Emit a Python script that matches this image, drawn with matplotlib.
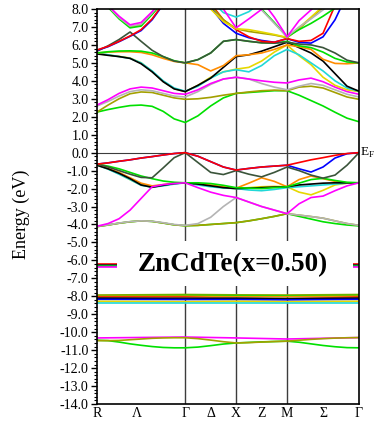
import matplotlib
matplotlib.use("Agg")
import matplotlib.pyplot as plt
import numpy as np
from matplotlib.patches import Rectangle

plt.rcParams['font.family'] = ['Liberation Serif', 'DejaVu Serif']
plt.rcParams['mathtext.fontset'] = 'custom'
plt.rcParams['mathtext.rm'] = 'Liberation Serif'

# high-symmetry path R - Gamma - X - M - Gamma (simple cubic, units of 2pi/a)
k_sym = [0.0, 0.866, 1.366, 1.866, 2.573]
sym_labels = ['R', 'Λ', 'Γ', 'Δ', 'X', 'Z', 'M', 'Σ', 'Γ']
n_seg = [9, 5, 5, 7]          # sample points per segment

# ---- band energies (eV) at the sampled k points (23 per band) ----
# valence
v_blue    = [-0.64,-0.57,-0.48,-0.40,-0.30,-0.22,-0.13,-0.05,0.00, -0.20,-0.50,-0.80,-0.97, -0.88,-0.80,-0.75,-0.70, -0.90,-1.08,-0.80,-0.30,-0.06,0.00]
v_red     = [-0.64,-0.57,-0.48,-0.40,-0.30,-0.22,-0.13,-0.05,0.00, -0.20,-0.50,-0.80,-0.97, -0.88,-0.80,-0.75,-0.70, -0.55,-0.40,-0.28,-0.15,-0.05,0.00]
v_dkgrey  = [-0.64,-0.80,-1.00,-1.20,-1.38,-1.40,-0.85,-0.28,0.00, -0.55,-1.10,-1.22,-1.00, -1.20,-1.35,-1.10,-0.80, -1.00,-1.25,-1.42,-1.25,-0.70,0.00]
v_green   = [-0.64,-0.75,-0.90,-1.10,-1.30,-1.45,-1.58,-1.65,-1.68, -1.68,-1.72,-1.82,-1.95, -1.98,-2.00,-1.95,-1.90, -1.70,-1.50,-1.43,-1.55,-1.65,-1.68]
v_black   = [-0.70,-0.90,-1.15,-1.45,-1.80,-1.93,-1.82,-1.72,-1.68, -1.75,-1.85,-1.95,-2.00, -1.98,-1.95,-1.92,-1.90, -1.80,-1.75,-1.70,-1.68,-1.68,-1.68]
v_orange  = [-0.68,-0.88,-1.10,-1.40,-1.70,-1.85,-1.78,-1.70,-1.68, -1.72,-1.80,-1.90,-1.98, -1.70,-1.40,-1.60,-1.90, -1.50,-1.30,-1.45,-1.60,-1.68,-1.68]
v_cyan    = [-0.70,-0.92,-1.20,-1.50,-1.82,-1.92,-1.85,-1.75,-1.68, -1.80,-1.90,-1.97,-2.00, -2.08,-2.12,-2.05,-1.95, -1.90,-1.85,-1.80,-1.75,-1.70,-1.68]
v_yellow  = [-0.66,-0.90,-1.18,-1.50,-1.80,-1.90,-1.80,-1.72,-1.68, -1.72,-1.85,-1.95,-2.00, -1.95,-1.90,-1.88,-1.90, -2.20,-2.35,-2.10,-1.80,-1.70,-1.68]
v_green2  = [-4.12,-4.03,-3.93,-3.85,-3.80,-3.83,-3.92,-4.02,-4.07, -4.05,-4.00,-3.95,-3.90, -3.80,-3.68,-3.55,-3.40, -3.55,-3.70,-3.85,-3.95,-4.03,-4.08]
v_olive   = [-4.12,-4.03,-3.93,-3.85,-3.80,-3.83,-3.92,-4.02,-4.07, -4.05,-4.00,-3.95,-3.90, -3.80,-3.68,-3.55,-3.40, -3.48,-3.56,-3.65,-3.80,-3.95,-4.05]
v_silver  = [-4.10,-4.02,-3.92,-3.84,-3.80,-3.82,-3.90,-4.00,-4.05, -3.95,-3.60,-3.00,-2.50, -2.75,-3.00,-3.20,-3.40, -3.48,-3.56,-3.65,-3.80,-3.95,-4.05]
v_magenta = [-4.10,-3.95,-3.68,-3.20,-2.55,-1.90,-1.78,-1.72,-1.68, -1.95,-2.20,-2.38,-2.50, -2.75,-3.00,-3.20,-3.40, -2.85,-2.50,-2.42,-2.12,-1.85,-1.68]

# low-lying s-like bands
s_green   = [-10.45,-10.47,-10.55,-10.65,-10.73,-10.80,-10.85,-10.87,-10.87, -10.83,-10.75,-10.66,-10.60, -10.57,-10.54,-10.52,-10.50, -10.56,-10.65,-10.74,-10.81,-10.86,-10.87]
s_olive   = [-10.47,-10.47,-10.46,-10.42,-10.38,-10.34,-10.32,-10.31,-10.31, -10.36,-10.44,-10.53,-10.60, -10.58,-10.55,-10.52,-10.50, -10.45,-10.40,-10.36,-10.33,-10.31,-10.30]

# conduction
c_green1  = [2.26,2.40,2.52,2.62,2.65,2.58,2.30,1.88,1.68, 2.05,2.60,3.05,3.30, 3.35,3.40,3.45,3.45, 3.20,2.90,2.60,2.25,1.92,1.72]
c_olive1  = [2.26,2.65,3.00,3.28,3.38,3.35,3.20,3.05,2.97, 3.00,3.08,3.20,3.30, 3.38,3.45,3.48,3.45, 3.65,3.70,3.60,3.35,3.10,2.97]
c_silver1 = [2.60,2.85,3.15,3.40,3.50,3.45,3.30,3.15,3.10, 3.40,3.80,4.10,4.20, 4.10,3.85,3.65,3.50, 3.70,3.85,3.75,3.50,3.25,3.10]
c_mag1    = [2.65,2.95,3.30,3.55,3.65,3.60,3.45,3.30,3.25, 3.50,3.85,4.10,4.20, 4.10,4.00,3.92,3.88, 4.05,4.15,3.95,3.65,3.40,3.25]
c_cyan1   = [5.55,5.45,5.35,5.25,5.00,4.55,4.00,3.60,3.42, 3.70,4.15,4.50,4.62, 4.50,4.85,5.40,5.75, 5.45,5.00,4.55,4.00,3.60,3.42]
c_yellow1 = [5.52,5.44,5.36,5.27,5.00,4.52,3.97,3.57,3.40, 3.75,4.20,4.50,4.65, 4.75,5.10,5.60,6.00, 5.40,4.90,4.20,3.75,3.50,3.40]
c_black1  = [5.50,5.42,5.35,5.25,4.95,4.50,3.95,3.55,3.40, 3.75,4.15,4.75,5.35, 5.45,5.65,5.90,6.15, 5.85,5.55,5.10,4.40,3.70,3.42]
c_orange1 = [5.55,5.60,5.62,5.62,5.58,5.45,5.25,5.08,5.00, 4.90,4.55,4.85,5.40, 5.45,5.55,5.75,6.00, 5.90,5.75,5.20,4.97,4.95,5.00]
c_green2  = [5.55,5.62,5.66,5.67,5.65,5.55,5.35,5.12,5.00, 5.18,5.55,6.20,6.30, 6.20,6.12,6.10,6.20, 5.95,5.85,5.60,5.25,5.05,5.00]
c_dkgrey1 = [5.65,5.95,6.30,6.72,6.20,5.70,5.35,5.10,5.00, 5.18,5.55,6.20,6.30, 6.20,6.12,6.10,6.15, 6.05,6.00,5.85,5.55,5.15,5.00]
c_blue1   = [5.70,5.90,6.18,6.48,6.80,7.40,8.25,9.00,9.30, 9.00,8.10,7.20,6.65, 6.40,6.25,6.15,6.35, 6.15,6.10,6.45,7.40,8.80,9.30]
c_red1    = [5.72,5.92,6.20,6.50,6.85,7.45,8.30,9.00,9.30, 9.00,8.30,7.40,6.85, 6.45,6.20,6.15,6.35, 6.20,6.25,6.65,8.20,9.00,9.30]
c_olive2  = [9.12,8.12,7.50,7.00,7.10,7.75,8.45,9.12,9.50, 9.40,8.20,7.40,6.90, 6.75,6.65,6.55,6.40, 6.90,7.50,8.10,8.70,9.20,9.50]
c_yellow2 = [9.50,9.50,9.50,9.50,9.50,9.50,9.50,9.50,9.50, 9.50,8.00,7.30,6.90, 6.85,6.72,6.58,6.42, 6.95,7.55,8.15,8.75,9.30,9.50]
c_green3  = [9.10,8.10,7.45,6.95,7.05,7.70,8.40,9.10,9.50, 9.50,9.50,9.30,9.00, 8.60,8.00,7.25,6.45, 6.85,7.20,7.60,8.05,8.50,9.00]
c_grey2   = [9.15,8.15,7.52,7.05,7.15,7.78,8.50,9.15,9.50, 9.50,9.50,9.30,9.00, 8.70,7.95,7.20,6.45, 7.00,7.45,7.95,8.50,9.00,9.30]
c_cyan2   = [9.50,9.50,9.50,9.50,9.50,9.50,9.50,9.50,9.50, 9.30,8.50,7.80,7.55, 7.85,8.40,9.00,9.40, 9.50,9.50,9.50,9.50,9.50,9.50]
c_mag2    = [9.20,8.20,7.60,7.12,7.25,7.85,8.60,9.20,9.50, 9.40,8.90,8.00,6.95, 7.45,7.98,8.60,9.20, 9.40,9.50,9.50,9.50,9.50,9.50]
c_mag3    = [9.50,9.50,9.50,9.50,9.50,9.50,9.50,9.50,9.50, 9.50,9.50,9.50,9.30, 9.20,8.50,7.55,6.45, 7.35,7.95,8.60,9.20,9.50,9.50]

# nearly flat d bands, given at the five high-symmetry points
d_bands = [
    ('#ff0000', [-6.18, -6.18, -6.18, -6.18, -6.18]),
    ('#222222', [-6.24, -6.24, -6.24, -6.24, -6.24]),
    ('#0000ff', [-6.29, -6.29, -6.29, -6.29, -6.29]),
    ('#00e000', [-6.34, -6.34, -6.34, -6.34, -6.34]),
    ('#ff00ff', [-6.38, -6.38, -6.38, -6.38, -6.38]),
    ('#a3a000', [-7.93, -7.90, -7.92, -7.93, -7.90]),
    ('#00e000', [-7.97, -7.95, -7.96, -7.97, -7.95]),
    ('#ff8c00', [-8.00, -8.00, -8.02, -8.02, -8.00]),
    ('#ff0000', [-8.05, -8.05, -8.12, -8.15, -8.05]),
    ('#3a543a', [-8.10, -8.10, -8.10, -8.12, -8.10]),
    ('#000000', [-8.12, -8.15, -8.13, -8.15, -8.12]),
    ('#0000ff', [-8.17, -8.18, -8.18, -8.20, -8.17]),
    ('#e6d800', [-8.28, -8.30, -8.28, -8.30, -8.28]),
    ('#20d8d8', [-8.35, -8.35, -8.35, -8.35, -8.35]),
    ('#ff00ff', [-10.32, -10.27, -10.32, -10.38, -10.30]),
]

RED, BLUE, LIME, BLACK = '#ff0000', '#0000ff', '#00e000', '#000000'
DKG, ORANGE, YELLOW, CYAN = '#3a543a', '#ff8c00', '#e6d800', '#20d8d8'
MAG, SILVER, OLIVE = '#ff00ff', '#b4b4b4', '#a3a000'

bands = [
    (BLUE, v_blue), (YELLOW, v_yellow), (CYAN, v_cyan), (ORANGE, v_orange),
    (BLACK, v_black), (LIME, v_green), (DKG, v_dkgrey), (RED, v_red),
    (LIME, v_green2), (OLIVE, v_olive), (SILVER, v_silver), (MAG, v_magenta),
    (LIME, s_green), (OLIVE, s_olive),
    (LIME, c_green1), (OLIVE, c_olive1), (SILVER, c_silver1), (MAG, c_mag1),
    (YELLOW, c_yellow1), (CYAN, c_cyan1), (BLACK, c_black1), (ORANGE, c_orange1),
    (LIME, c_green2), (DKG, c_dkgrey1), (BLUE, c_blue1), (RED, c_red1),
    (OLIVE, c_olive2), (YELLOW, c_yellow2), (LIME, c_green3), (SILVER, c_grey2),
    (CYAN, c_cyan2), (MAG, c_mag2), (MAG, c_mag3),
]

# k grid
k = np.concatenate([np.linspace(k_sym[i], k_sym[i + 1], n)[(1 if i else 0):]
                    for i, n in enumerate(n_seg)])

fig = plt.figure(figsize=(3.75, 4.23), dpi=100)
ax = fig.add_axes([0.2587, 0.0449, 0.6987, 0.9338])

for col, e in d_bands:
    ax.plot(k_sym, e, color=col, lw=1.2, zorder=2)
for col, e in bands:
    ax.plot(k, e, color=col, lw=1.2, zorder=2)

for ks in k_sym[1:-1]:
    ax.axvline(ks, color='#3c3c3c', lw=1.0, zorder=1)
ax.axhline(0.0, color='#3c3c3c', lw=0.8, zorder=1)

ax.set_xlim(k_sym[0], k_sym[-1])
ax.set_ylim(-14.0, 8.0)

# label box
ax.add_patch(Rectangle((0.197, -7.45), 2.32, 2.55, facecolor='white',
                       edgecolor='none', zorder=4))
ax.text(1.33, -6.25, 'ZnCdTe(x=0.50)', fontsize=19.5, fontweight='bold',
        ha='center', va='center', zorder=5)

# axes cosmetics
yt = np.arange(-14, 9, 1)
ax.set_yticks(yt)
ax.set_yticklabels([f'{v:.1f}' for v in yt], fontsize=10)
ax.set_yticks(np.arange(-14, 8.01, 0.2), minor=True)
ax.tick_params(axis='y', which='major', direction='out', length=4, width=1, pad=2)
ax.tick_params(axis='y', which='minor', direction='out', length=2.5, width=0.8)

mids = [(k_sym[i] + k_sym[i + 1]) / 2 for i in range(4)]
xt = [k_sym[0], mids[0] - 0.04, k_sym[1], mids[1], k_sym[2], mids[2], k_sym[3], mids[3], k_sym[4]]
ax.set_xticks(xt)
ax.set_xticklabels(sym_labels, fontsize=10)
ax.tick_params(axis='x', length=0, pad=2)

for s in ax.spines.values():
    s.set_linewidth(1.2)

ax.set_ylabel('Energy (eV)', fontsize=13)
ax.yaxis.set_label_coords(-0.255, 0.48)

ax.text(1.003, 0.0, r'E$_{\rm F}$', transform=ax.get_yaxis_transform(),
        fontsize=9.5, va='center', ha='left', clip_on=False)

fig.savefig('out.png', dpi=100)
